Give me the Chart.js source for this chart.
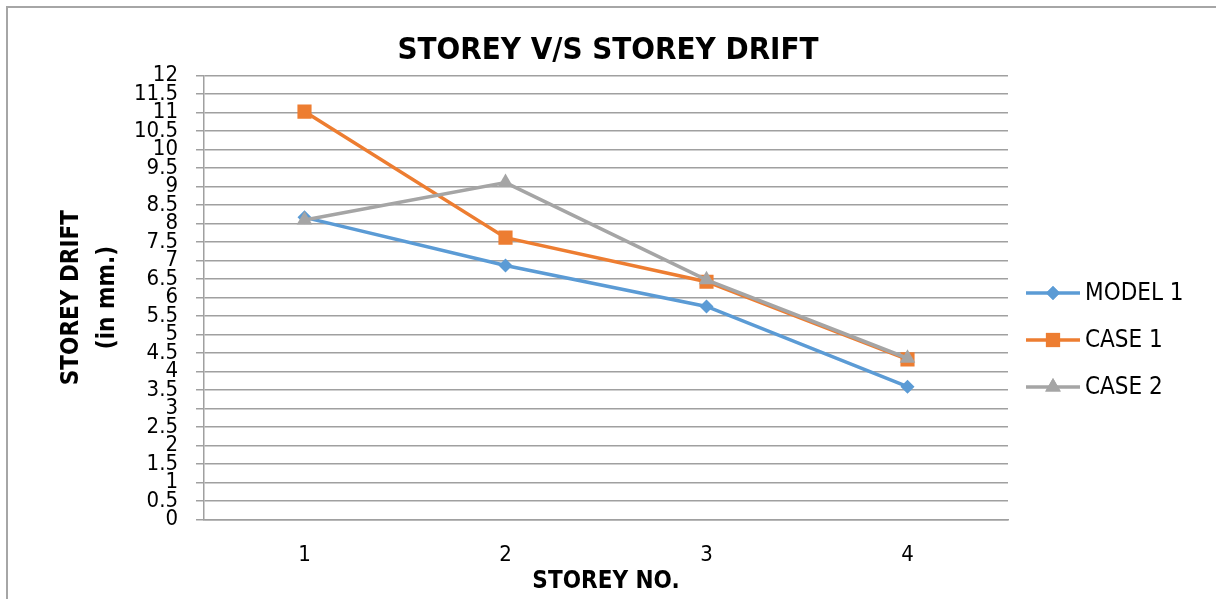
<!DOCTYPE html>
<html lang="en">
<head>
    <meta charset="UTF-8">
    <title>STOREY V/S STOREY DRIFT</title>
    <script src="https://cdn.jsdelivr.net/npm/chart.js"></script>
    <style>
        body { margin: 0; background: #fff; }
    </style>
</head>
<body>
    <canvas id="driftChart" width="1216" height="599"></canvas>

    <script>
        // values
        var storeys = ['1', '2', '3', '4'];
        var model1 = [8.17, 6.87, 5.76, 3.59];
        var case1 = [11.03, 7.62, 6.43, 4.33];
        var case2 = [8.10, 9.11, 6.48, 4.36];

        var narrow = '"Liberation Sans Narrow", "DejaVu Sans Condensed", sans-serif';
        var gridGray = '#a0a0a0';

        // outer frame of the chart box
        var framePlugin = {
            id: 'frame',
            beforeDraw: function (chart) {
                var ctx = chart.ctx;
                ctx.save();
                ctx.fillStyle = '#fff';
                ctx.fillRect(0, 0, chart.width, chart.height);
                ctx.strokeStyle = '#a6a6a6';
                ctx.lineWidth = 2;
                ctx.strokeRect(7, 7, chart.width + 20, chart.height + 20);
                ctx.restore();
            }
        };

        // legend with line + marker, like the excel one
        var sideLegend = {
            id: 'sideLegend',
            afterDraw: function (chart) {
                var ctx = chart.ctx;
                var sets = chart.data.datasets;
                ctx.save();
                for (var i = 0; i < sets.length; i++) {
                    var ds = sets[i];
                    var y = 293 + i * 47;
                    ctx.strokeStyle = ds.borderColor;
                    ctx.lineWidth = ds.borderWidth;
                    ctx.beginPath();
                    ctx.moveTo(1026, y);
                    ctx.lineTo(1080, y);
                    ctx.stroke();
                    ctx.fillStyle = ds.backgroundColor;
                    Chart.helpers.drawPoint(ctx, {
                        pointStyle: ds.pointStyle,
                        radius: ds.pointRadius,
                        rotation: 0,
                        borderWidth: 0
                    }, 1053, y);
                    ctx.fill();
                    ctx.fillStyle = '#000';
                    ctx.font = '24px ' + narrow;
                    ctx.textBaseline = 'middle';
                    ctx.textAlign = 'left';
                    ctx.fillText(ds.label, 1085, y + 1);
                }
                ctx.restore();
            }
        };

        var ctx = document.getElementById('driftChart').getContext('2d');

        var driftChart = new Chart(ctx, {
            type: 'line',
            data: {
                labels: storeys,
                datasets: [
                    {
                        label: 'MODEL 1',
                        data: model1,
                        borderColor: '#5B9BD5',
                        backgroundColor: '#5B9BD5',
                        borderWidth: 3.5,
                        pointStyle: 'rectRot',
                        pointRadius: 7,
                        pointBorderWidth: 0,
                        order: 2
                    },
                    {
                        label: 'CASE 1',
                        data: case1,
                        borderColor: '#ED7D31',
                        backgroundColor: '#ED7D31',
                        borderWidth: 3.5,
                        pointStyle: 'rect',
                        pointRadius: 10,
                        pointBorderWidth: 0,
                        order: 1
                    },
                    {
                        label: 'CASE 2',
                        data: case2,
                        borderColor: '#A5A5A5',
                        backgroundColor: '#A5A5A5',
                        borderWidth: 3.5,
                        pointStyle: 'triangle',
                        pointRadius: 9,
                        pointBorderWidth: 0,
                        order: 0
                    }
                ]
            },
            options: {
                responsive: false,
                animation: false,
                layout: {
                    padding: 0
                },
                plugins: {
                    legend: { display: false },
                    tooltip: { enabled: false },
                    title: {
                        display: true,
                        text: 'STOREY V/S STOREY DRIFT',
                        color: '#000',
                        font: { family: narrow, size: 31, weight: 'bold', lineHeight: 1.2 },
                        padding: { top: 32, bottom: 6.5 }
                    }
                },
                scales: {
                    x: {
                        offset: true,
                        afterFit: function (scale) { scale.height = 79.5; },
                        grid: { display: false, drawTicks: false },
                        border: { display: true, color: gridGray, width: 1.5 },
                        ticks: {
                            color: '#000',
                            padding: 23,
                            font: { family: narrow, size: 22 }
                        },
                        title: {
                            display: true,
                            text: 'STOREY NO.',
                            color: '#000',
                            font: { family: narrow, size: 24, weight: 'bold', lineHeight: 1.2 },
                            padding: { top: 0, bottom: 2.5 }
                        }
                    },
                    y: {
                        min: 0,
                        max: 12,
                        afterFit: function (scale) { scale.width = 204; },
                        grid: { color: gridGray, lineWidth: 1.5, tickLength: 8 },
                        border: { display: true, color: gridGray, width: 1.5 },
                        ticks: {
                            stepSize: 0.5,
                            autoSkip: false,
                            color: '#000',
                            padding: 18,
                            font: { family: narrow, size: 22 },
                            callback: function (value) { return String(value); }
                        },
                        title: {
                            display: true,
                            text: ['STOREY DRIFT', '(in mm.)'],
                            color: '#000',
                            font: { family: narrow, size: 24, weight: 'bold', lineHeight: 1.5 },
                            padding: { top: 54, bottom: 0 }
                        }
                    },
                    // empty right-hand box that leaves room for the legend
                    side: {
                        type: 'linear',
                        position: 'right',
                        display: true,
                        afterFit: function (scale) { scale.width = 208; },
                        grid: { display: false },
                        border: { display: false },
                        ticks: { display: false }
                    }
                }
            },
            plugins: [framePlugin, sideLegend]
        });
    </script>
</body>
</html>
